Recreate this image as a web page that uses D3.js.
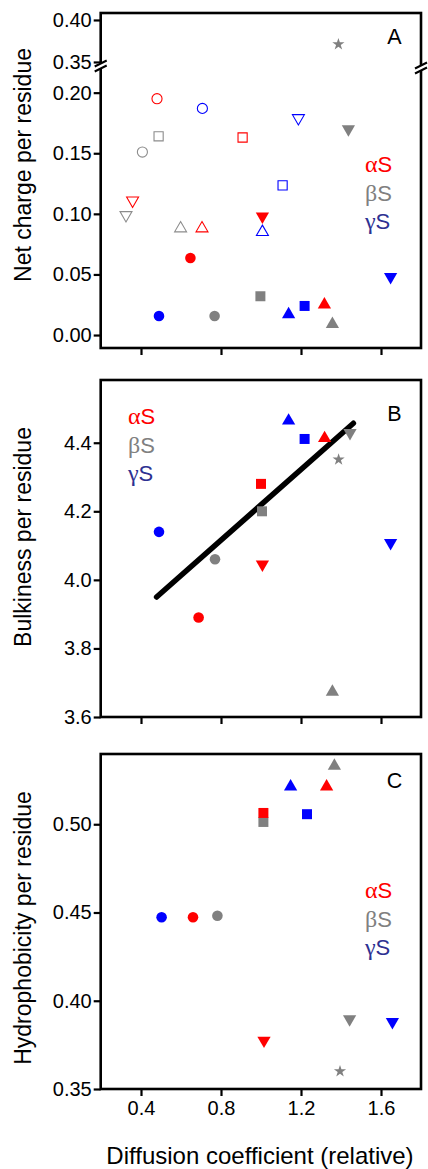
<!DOCTYPE html>
<html>
<head>
<meta charset="utf-8">
<script src="https://cdn.jsdelivr.net/npm/d3@7"></script>
<style>
  body { margin: 0; background: #fff; }
  svg { display: block; font-family: Arial, "Liberation Sans", sans-serif; }
</style>
</head>
<body>
<svg id="chart" width="428" height="1169"></svg>
<script>
// series and their colours
const seriesNames = ["αS", "βS", "γS"];
const seriesColors = ["#ff0000", "#808080", "#0000ff"];
const legendColors = ["#ff0000", "#808080", "#2e3192"];

const xTicks = [0.4, 0.8, 1.2, 1.6];

// [series, shape, filled, x, y]
const netCharge = [
  ["αS", "circle", false, 0.48, 0.195],
  ["γS", "circle", false, 0.707, 0.187],
  ["βS", "square", false, 0.488, 0.164],
  ["αS", "square", false, 0.908, 0.163],
  ["βS", "circle", false, 0.407, 0.151],
  ["γS", "down", false, 1.187, 0.179],
  ["γS", "square", false, 1.108, 0.1235],
  ["αS", "down", false, 0.358, 0.111],
  ["βS", "down", false, 0.325, 0.099],
  ["βS", "up", false, 0.598, 0.088],
  ["αS", "up", false, 0.705, 0.088],
  ["γS", "up", false, 1.007, 0.085],
  ["βS", "down", true, 1.437, 0.170],
  ["αS", "down", true, 1.007, 0.098],
  ["αS", "circle", true, 0.647, 0.0635],
  ["γS", "down", true, 1.648, 0.048],
  ["βS", "square", true, 0.997, 0.032],
  ["γS", "circle", true, 0.49, 0.0157],
  ["βS", "circle", true, 0.768, 0.0157],
  ["γS", "up", true, 1.138, 0.017],
  ["γS", "square", true, 1.218, 0.024],
  ["αS", "up", true, 1.317, 0.025],
  ["βS", "up", true, 1.357, 0.009],
  ["βS", "star", true, 1.387, 0.371]
];

const bulkiness = [
  ["γS", "up", true, 1.138, 4.464],
  ["γS", "square", true, 1.218, 4.411],
  ["αS", "up", true, 1.318, 4.413],
  ["βS", "down", true, 1.445, 4.429],
  ["βS", "star", true, 1.388, 4.351],
  ["αS", "square", true, 1.0, 4.28],
  ["βS", "square", true, 1.005, 4.2],
  ["γS", "circle", true, 0.49, 4.14],
  ["βS", "circle", true, 0.77, 4.06],
  ["αS", "down", true, 1.007, 4.045],
  ["γS", "down", true, 1.648, 4.108],
  ["αS", "circle", true, 0.688, 3.89],
  ["βS", "up", true, 1.357, 3.673]
];
const bulkFit = [[0.478, 3.95], [1.462, 4.457]];

const hydrophobicity = [
  ["βS", "up", true, 1.367, 0.533],
  ["γS", "up", true, 1.148, 0.5213],
  ["αS", "up", true, 1.328, 0.5213],
  ["βS", "square", true, 1.012, 0.5013],
  ["αS", "square", true, 1.012, 0.5064],
  ["γS", "square", true, 1.23, 0.5057],
  ["γS", "circle", true, 0.503, 0.4473],
  ["αS", "circle", true, 0.66, 0.4473],
  ["βS", "circle", true, 0.782, 0.4482],
  ["αS", "down", true, 1.015, 0.3775],
  ["βS", "down", true, 1.443, 0.3896],
  ["γS", "down", true, 1.657, 0.388],
  ["βS", "star", true, 1.395, 0.360]
];

const svg = d3.select("#chart");
const left = 100.7, right = 421;
const x = d3.scaleLinear().domain([0.2, 1.8]).range([left + 0.3, right]);

const color = d3.scaleOrdinal().domain(seriesNames).range(seriesColors);
const legendColor = d3.scaleOrdinal().domain(seriesNames).range(legendColors);

const symbolTypes = { circle: d3.symbolCircle, square: d3.symbolSquare, up: d3.symbolTriangle, down: d3.symbolTriangle, star: d3.symbolStar };
const symbolSizes = { circle: 88, square: 100, up: 76, down: 76, star: 46 };
const openSizes = { circle: 80, square: 84, up: 62, down: 62, star: 40 };

function drawPoints(g, data, yFor) {
  g.selectAll("path.pt")
    .data(data)
    .join("path")
    .attr("class", "pt")
    .attr("d", d => d3.symbol().type(symbolTypes[d[1]]).size(d[2] ? symbolSizes[d[1]] : openSizes[d[1]])())
    .attr("transform", d => `translate(${x(d[3])},${yFor(d[4])})` + (d[1] === "down" ? " rotate(180)" : ""))
    .attr("fill", d => d[2] ? color(d[0]) : "none")
    .attr("stroke", d => d[2] ? "none" : (d[0] === "βS" ? "#8c8c8c" : color(d[0])))
    .attr("stroke-width", 1.1);
}

function styleAxis(g) {
  g.select(".domain").remove();
  g.selectAll(".tick line").attr("stroke", "#000").attr("stroke-width", 2.2);
  g.selectAll(".tick text").attr("font-size", 20).attr("fill", "#000").attr("font-family", "Arial, 'Liberation Sans', sans-serif");
}

function frame(top, bottom) {
  svg.append("rect")
    .attr("x", left).attr("y", top)
    .attr("width", right - left).attr("height", bottom - top)
    .attr("fill", "none").attr("stroke", "#000").attr("stroke-width", 2.6);
}

function xAxis(bottom, labels) {
  const g = svg.append("g").attr("transform", `translate(0,${bottom})`)
    .call(d3.axisBottom(x).tickValues(xTicks).tickSize(7).tickSizeOuter(0).tickPadding(5)
      .tickFormat(labels ? d3.format(".1f") : ""));
  styleAxis(g);
}

function legend(xPos, y0) {
  seriesNames.forEach((s, i) => {
    const t = svg.append("text")
      .attr("x", xPos).attr("y", y0 + i * 28.5)
      .attr("font-size", 22)
      .attr("fill", legendColor(s));
    t.append("tspan").attr("font-family", "'Liberation Serif', 'DejaVu Serif', serif").attr("font-size", 24).text(s[0]);
    t.append("tspan").text(s.slice(1));
  });
}

function panelLetter(txt, y) {
  svg.append("text").attr("x", 394.5).attr("y", y).attr("text-anchor", "middle")
    .attr("font-size", 21.5).text(txt);
}

function yTitle(txt, cy) {
  svg.append("text")
    .attr("transform", `translate(30.5,${cy}) rotate(-90)`)
    .attr("text-anchor", "middle").attr("font-size", 23).text(txt);
}

// ---------- Panel A (broken y axis) ----------
const aTop = 13, aBottom = 348, aBreak = 66;
const yLow = d3.scaleLinear().domain([-0.0107, 0.222]).range([aBottom, aBreak]);
const yHigh = d3.scaleLinear().domain([0.3452, 0.4083]).range([aBreak, aTop]);
const yA = v => v > 0.3 ? yHigh(v) : yLow(v);

const gA = svg.append("g");
drawPoints(gA, netCharge, yA);
frame(aTop, aBottom);
xAxis(aBottom, false);
styleAxis(svg.append("g").attr("transform", `translate(${left},0)`)
  .call(d3.axisLeft(yLow).tickValues([0, 0.05, 0.10, 0.15, 0.20]).tickFormat(d3.format(".2f")).tickSize(7).tickSizeOuter(0).tickPadding(2)));
styleAxis(svg.append("g").attr("transform", `translate(${left},0)`)
  .call(d3.axisLeft(yHigh).tickValues([0.35, 0.40]).tickFormat(d3.format(".2f")).tickSize(7).tickSizeOuter(0).tickPadding(2)));

// break marks
[[left, aBreak], [right, aBreak + 2]].forEach(([bx, by]) => {
  svg.append("rect").attr("x", bx - 3).attr("y", by - 2.5).attr("width", 6).attr("height", 5).attr("fill", "#fff");
  [-2.5, 2.5].forEach(off => {
    svg.append("line")
      .attr("x1", bx - 6).attr("y1", by + off + 3)
      .attr("x2", bx + 6).attr("y2", by + off - 3)
      .attr("stroke", "#000").attr("stroke-width", 2);
  });
});
legend(365, 172);
panelLetter("A", 44);
yTitle("Net charge per residue", 165);

// ---------- Panel B ----------
const bTop = 380, bBottom = 717;
const yB = d3.scaleLinear().domain([3.6, 4.583]).range([bBottom, bTop]);
svg.append("line")
  .attr("x1", x(bulkFit[0][0])).attr("y1", yB(bulkFit[0][1]))
  .attr("x2", x(bulkFit[1][0])).attr("y2", yB(bulkFit[1][1]))
  .attr("stroke", "#000").attr("stroke-width", 5.5).attr("stroke-linecap", "round");
drawPoints(svg.append("g"), bulkiness, yB);
frame(bTop, bBottom);
xAxis(bBottom, false);
styleAxis(svg.append("g").attr("transform", `translate(${left},0)`)
  .call(d3.axisLeft(yB).tickValues([3.6, 3.8, 4.0, 4.2, 4.4]).tickFormat(d3.format(".1f")).tickSize(7).tickSizeOuter(0).tickPadding(2)));
legend(128, 424);
panelLetter("B", 421);
yTitle("Bulkiness per residue", 537);

// ---------- Panel C ----------
const cTop = 754, cBottom = 1089;
const yC = d3.scaleLinear().domain([0.35, 0.5398]).range([cBottom, cTop]);
drawPoints(svg.append("g"), hydrophobicity, yC);
frame(cTop, cBottom);
xAxis(cBottom, true);
styleAxis(svg.append("g").attr("transform", `translate(${left},0)`)
  .call(d3.axisLeft(yC).tickValues([0.35, 0.40, 0.45, 0.50]).tickFormat(d3.format(".2f")).tickSize(7).tickSizeOuter(0).tickPadding(2)));
legend(365, 898);
panelLetter("C", 788);
yTitle("Hydrophobicity per residue", 928);

svg.append("text")
  .attr("x", 260).attr("y", 1164)
  .attr("text-anchor", "middle").attr("font-size", 24)
  .text("Diffusion coefficient (relative)");
</script>
</body>
</html>
